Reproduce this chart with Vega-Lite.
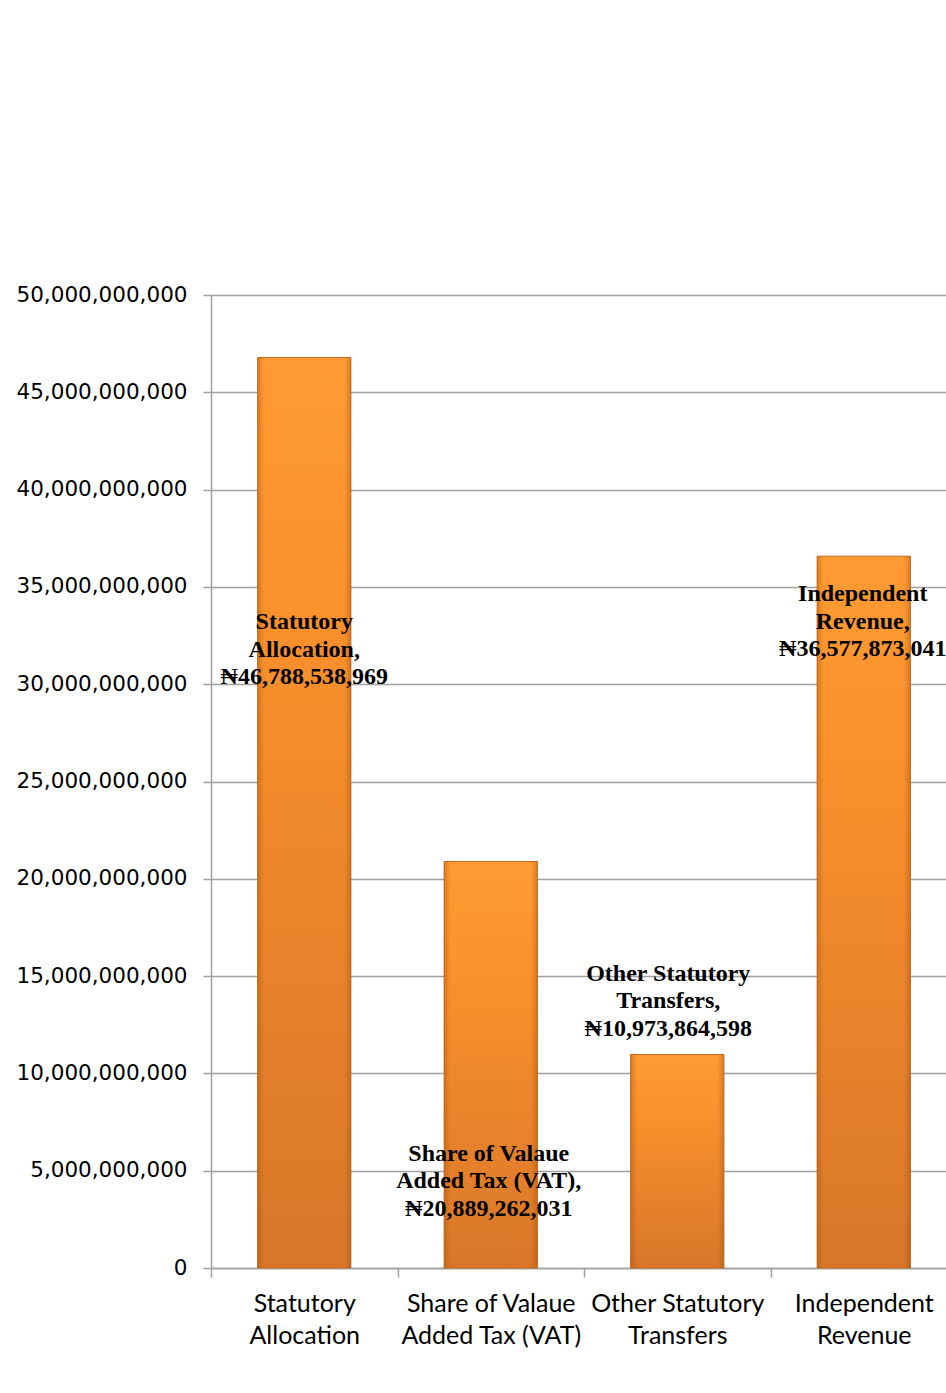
{
  "$schema": "https://vega.github.io/schema/vega-lite/v6.json",
  "width": 746,
  "height": 973,
  "autosize": "none",
  "padding": {"left": 211, "top": 295, "right": 0, "bottom": 125},
  "background": "white",
  "config": {"view": {"stroke": null}},
  "data": {"values": [
    {"cat": "Statutory Allocation", "amount": 46788538969, "label": "Statutory\nAllocation,\n₦46,788,538,969"},
    {"cat": "Share of Valaue Added Tax (VAT)", "amount": 20889262031, "label": "Share of Valaue\nAdded Tax (VAT),\n₦20,889,262,031"},
    {"cat": "Other Statutory Transfers", "amount": 10973864598, "label": "Other Statutory\nTransfers,\n₦10,973,864,598"},
    {"cat": "Independent Revenue", "amount": 36577873041, "label": "Independent\nRevenue,\n₦36,577,873,041"}
  ]},
  "encoding": {
    "x": {
      "field": "cat", "type": "nominal", "sort": null,
      "scale": {"paddingInner": 0.5, "paddingOuter": 0.25},
      "axis": {
        "title": null, "labelAngle": 0, "bandPosition": 0, "tickOffset": -46.6, "labelOffset": 46.6,
        "domainColor": "#A0A0A0", "domainWidth": 1.5,
        "tickColor": "#A0A0A0", "tickWidth": 1.5, "tickSize": 9,
        "labelFont": "Lato", "labelFontSize": 25, "labelColor": "#000000", "labelLimit": 400,
        "labelPadding": 14, "labelLineHeight": 32, "labelBaseline": "top",
        "labelExpr": "datum.value == 'Statutory Allocation' ? ['Statutory','Allocation'] : datum.value == 'Share of Valaue Added Tax (VAT)' ? ['Share of Valaue','Added Tax (VAT)'] : datum.value == 'Other Statutory Transfers' ? ['Other Statutory','Transfers'] : ['Independent','Revenue']"
      }
    }
  },
  "layer": [
    {
      "mark": {
        "type": "bar",
        "color": {"gradient": "linear", "x1": 0, "y1": 0, "x2": 0, "y2": 1,
          "stops": [{"offset": 0, "color": "#FF9B32"}, {"offset": 0.3, "color": "#FA902C"}, {"offset": 1, "color": "#D8772A"}]},
        "stroke": "#C8691F", "strokeWidth": 1
      },
      "encoding": {
        "y": {
          "field": "amount", "type": "quantitative",
          "scale": {"domain": [0, 50000000000], "nice": false},
          "axis": {
            "title": null, "values": [0, 5000000000, 10000000000, 15000000000, 20000000000, 25000000000, 30000000000, 35000000000, 40000000000, 45000000000, 50000000000],
            "format": ",.0f", "grid": true, "gridColor": "#A0A0A0", "gridWidth": 1.5,
            "domainColor": "#A0A0A0", "domainWidth": 1.5,
            "tickColor": "#A0A0A0", "tickWidth": 1.5, "tickSize": 8,
            "labelFont": "DejaVu Sans", "labelFontSize": 21.5, "labelColor": "#000000", "labelPadding": 16
          }
        }
      }
    },
    {
      "mark": {
        "type": "bar",
        "color": {"gradient": "linear", "x1": 0, "y1": 0, "x2": 1, "y2": 0,
          "stops": [{"offset": 0, "color": "rgba(150,70,0,0.35)"}, {"offset": 0.07, "color": "rgba(150,70,0,0)"}, {"offset": 0.93, "color": "rgba(150,70,0,0)"}, {"offset": 1, "color": "rgba(150,70,0,0.35)"}]}
      },
      "encoding": {"y": {"field": "amount", "type": "quantitative"}}
    },
    {
      "transform": [{"filter": "datum.cat == 'Statutory Allocation'"}],
      "mark": {"type": "text", "font": "Liberation Serif", "fontWeight": "bold", "fontSize": 24, "lineBreak": "\n", "lineHeight": 27.5, "baseline": "middle", "color": "#000000", "dy": -27.5},
      "encoding": {"y": {"datum": 31760000000, "type": "quantitative"}, "text": {"field": "label"}}
    },
    {
      "transform": [{"filter": "datum.cat == 'Share of Valaue Added Tax (VAT)'"}],
      "mark": {"type": "text", "font": "Liberation Serif", "fontWeight": "bold", "fontSize": 24, "lineBreak": "\n", "lineHeight": 27.5, "baseline": "middle", "color": "#000000", "dx": -2, "dy": -27.5},
      "encoding": {"y": {"datum": 4470000000, "type": "quantitative"}, "text": {"field": "label"}}
    },
    {
      "transform": [{"filter": "datum.cat == 'Other Statutory Transfers'"}],
      "mark": {"type": "text", "font": "Liberation Serif", "fontWeight": "bold", "fontSize": 24, "lineBreak": "\n", "lineHeight": 27.5, "baseline": "middle", "color": "#000000", "dx": -9, "dy": -27.5},
      "encoding": {"y": {"datum": 13720000000, "type": "quantitative"}, "text": {"field": "label"}}
    },
    {
      "transform": [{"filter": "datum.cat == 'Independent Revenue'"}],
      "mark": {"type": "text", "font": "Liberation Serif", "fontWeight": "bold", "fontSize": 24, "lineBreak": "\n", "lineHeight": 27.5, "baseline": "middle", "color": "#000000", "dx": -1, "dy": -27.5},
      "encoding": {"y": {"datum": 33200000000, "type": "quantitative"}, "text": {"field": "label"}}
    }
  ]
}
